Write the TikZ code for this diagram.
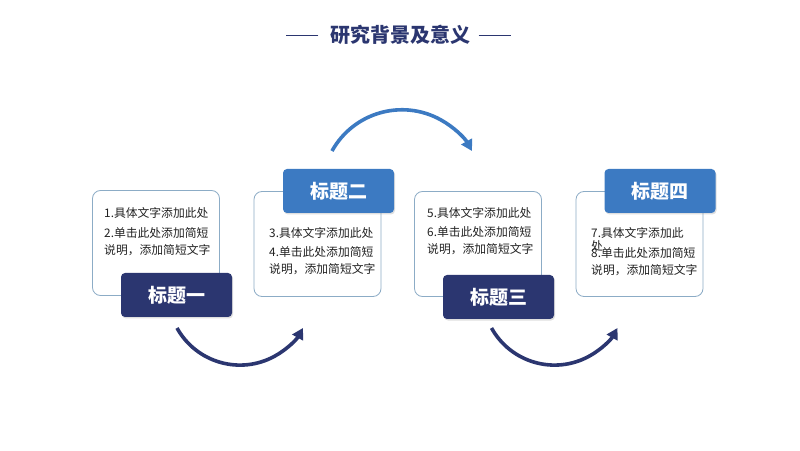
\documentclass[tikz,border=0pt]{standalone}
\usepackage{fontspec}
\usepackage{tikz}
\usetikzlibrary{arrows.meta,shadows}
\newfontfamily\cjk{Noto Sans CJK SC}
\definecolor{navy}{RGB}{43,54,112}
\definecolor{midblue}{RGB}{60,122,194}
\definecolor{boxline}{RGB}{140,172,198}
\definecolor{ink}{RGB}{34,34,34}
\tikzset{
	txtbox/.style={draw=boxline, line width=0.8pt, rounded corners=8pt, fill=white, minimum width=127pt, minimum height=105pt, inner sep=0pt},
	headnavy/.style={fill=navy, rounded corners=4pt, minimum width=111pt, minimum height=44pt, inner sep=0pt, text=white, font=\cjk\bfseries\fontsize{19}{19}\selectfont, drop shadow={opacity=0.25, shadow xshift=1pt, shadow yshift=-1.5pt}},
	headblue/.style={headnavy, fill=midblue},
	bodyline/.style={anchor=west, inner sep=0pt, text=ink, font=\cjk\fontsize{11.8}{14}\selectfont},
	navyarc/.style={draw=navy, line width=3.6pt, -{Triangle[length=11pt,width=12pt]}},
	bluearc/.style={navyarc, draw=midblue}
}

\begin{document}
\begin{tikzpicture}[x=1pt, y=1pt]
			%%%%% START %%%%%
			
			\fill[white] (0, 0) rectangle (800, 450);
			\useasboundingbox (0, 0) rectangle (800, 450);
			
			\node[font=\cjk\bfseries\fontsize{20}{20}\selectfont, text=navy] (title) at (400, 415) {研究背景及意义};
			\draw[navy, line width=0.9pt] ([xshift=-8pt]title.west) -- ++(-32, 0);
			\draw[navy, line width=0.9pt] ([xshift=5pt]title.east) -- ++(32, 0);
			
			\node[txtbox] (box1) at (156, 207) {};
			\node[txtbox] (box2) at (317.5, 206) {};
			\node[txtbox] (box3) at (478, 206) {};
			\node[txtbox] (box4) at (639.5, 206) {};
			
			\node[headnavy] (head1) at (176.5, 155) {标题一};
			\node[headblue] (head2) at (338.5, 259) {标题二};
			\node[headnavy] (head3) at (498.5, 153) {标题三};
			\node[headblue] (head4) at (660, 259) {标题四};
			
			\node[bodyline] (t1a) at (104, 237) {1.具体文字添加此处};
			\node[bodyline] (t1b) at (104, 217) {2.单击此处添加简短};
			\node[bodyline] (t1c) at (104, 200) {说明，添加简短文字};
			
			\node[bodyline] (t2a) at (269, 217) {3.具体文字添加此处};
			\node[bodyline] (t2b) at (269, 198) {4.单击此处添加简短};
			\node[bodyline] (t2c) at (269, 181) {说明，添加简短文字};
			
			\node[bodyline] (t3a) at (427, 237) {5.具体文字添加此处};
			\node[bodyline] (t3b) at (427, 218) {6.单击此处添加简短};
			\node[bodyline] (t3c) at (427, 201) {说明，添加简短文字};
			
			\node[bodyline] (t4a) at (591, 217) {7.具体文字添加此};
			\node[bodyline] (t4w) at (591, 204) {处};
			\node[bodyline] (t4b) at (591, 197) {8.单击此处添加简短};
			\node[bodyline] (t4c) at (591, 180) {说明，添加简短文字};
			
			\coordinate (arc1) at (177, 122);
			\coordinate (arc2) at (332, 299);
			\coordinate (arc3) at (491.5, 122);
			\draw[navyarc] (arc1) arc[start angle=209, end angle=331, radius=72pt];
			\draw[bluearc] (arc2) arc[start angle=151, end angle=29, radius=80pt];
			\draw[navyarc] (arc3) arc[start angle=209, end angle=331, radius=72pt];
			
			%%%%% END %%%%%
\end{tikzpicture}
\end{document}
